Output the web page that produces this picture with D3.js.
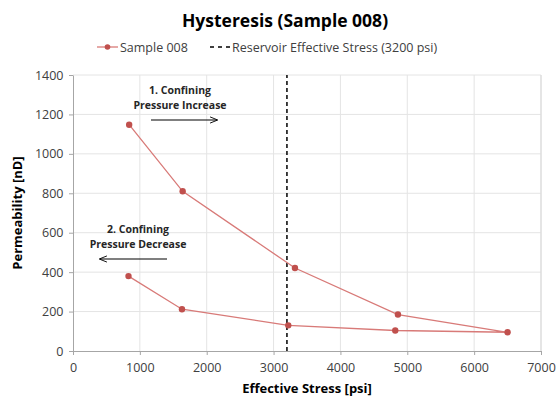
<!DOCTYPE html>
<html>
<head>
<meta charset="utf-8">
<script src="https://cdn.jsdelivr.net/npm/d3@7"></script>
<style>
  body { margin: 0; background: #fff; }
  text { font-family: "Open Sans", "Liberation Sans", sans-serif; }
</style>
</head>
<body>
<div id="chart"></div>
<script>
// measured values, in loop order
const stress = [840, 1640, 3320, 4860, 6500, 4820, 3220, 1630, 830];
const perm   = [1148, 810, 421, 185, 95, 104, 130, 212, 380];
const reservoirStress = 3200;
const xTicks = [0, 1000, 2000, 3000, 4000, 5000, 6000, 7000];
const yTicks = [0, 200, 400, 600, 800, 1000, 1200, 1400];

(function() {
  'use strict';

  const W = 557, H = 401,
        m = {top: 75, right: 16, bottom: 50, left: 73},
        red = '#c0504d',
        svg = d3.select('#chart').append('svg')
          .attr('width', W).attr('height', H),
        x = d3.scaleLinear().domain([0, 7000]).range([m.left, 541]),
        y = d3.scaleLinear().domain([0, 1400]).range([351, m.top]);

  // gridlines
  svg.append('g').selectAll('line').data(xTicks.slice(1)).join('line')
    .attr('x1', d => x(d)).attr('x2', d => x(d))
    .attr('y1', y(0)).attr('y2', y(1400))
    .attr('stroke', '#e4e4e4');
  svg.append('g').selectAll('line').data(yTicks.slice(1)).join('line')
    .attr('x1', x(0)).attr('x2', x(7000))
    .attr('y1', d => y(d)).attr('y2', d => y(d))
    .attr('stroke', '#e4e4e4');

  // axes
  const xAxis = svg.append('g')
    .attr('transform', `translate(0,${y(0)})`)
    .call(d3.axisBottom(x).tickValues(xTicks).tickFormat(d3.format('d'))
      .tickSize(4).tickSizeOuter(0));
  const yAxis = svg.append('g')
    .attr('transform', `translate(${x(0)},0)`)
    .call(d3.axisLeft(y).tickValues(yTicks).tickFormat(d3.format('d'))
      .tickSize(4).tickSizeOuter(0));
  [xAxis, yAxis].forEach(a => {
    a.select('.domain').attr('stroke', '#a6a6a6');
    a.selectAll('.tick line').attr('stroke', '#a6a6a6');
    a.selectAll('.tick text')
      .attr('font-size', 12.5).attr('fill', '#404040')
      .attr('font-family', '"Open Sans", sans-serif');
  });
  xAxis.selectAll('.tick text').attr('dy', '1.1em');
  yAxis.selectAll('.tick text').attr('dx', '-0.2em');

  // right border of plot area
  svg.append('line')
    .attr('x1', x(7000)).attr('x2', x(7000))
    .attr('y1', y(0)).attr('y2', y(1400))
    .attr('stroke', '#d9d9d9');

  // reservoir stress
  svg.append('line')
    .attr('x1', x(reservoirStress)).attr('x2', x(reservoirStress))
    .attr('y1', y(0)).attr('y2', y(1400))
    .attr('stroke', '#000').attr('stroke-width', 1.5)
    .attr('stroke-dasharray', '4,3');

  // series
  const pts = stress.map((s, i) => [s, perm[i]]);
  svg.append('path')
    .datum(pts)
    .attr('fill', 'none').attr('stroke', '#d87a78').attr('stroke-width', 1.3)
    .attr('d', d3.line().x(d => x(d[0])).y(d => y(d[1])));
  svg.append('g').selectAll('circle').data(pts).join('circle')
    .attr('cx', d => x(d[0])).attr('cy', d => y(d[1]))
    .attr('r', 3.2).attr('fill', red);

  // title
  svg.append('text')
    .attr('x', 285).attr('y', 27).attr('text-anchor', 'middle')
    .attr('font-size', 17.5).attr('font-weight', 'bold').attr('fill', '#000')
    .text('Hysteresis (Sample 008)');

  // legend
  const lg = svg.append('g');
  lg.append('line').attr('x1', 97).attr('x2', 118).attr('y1', 47).attr('y2', 47)
    .attr('stroke', '#d87a78').attr('stroke-width', 1.3);
  lg.append('circle').attr('cx', 107.5).attr('cy', 47).attr('r', 2.8).attr('fill', red);
  lg.append('text').attr('x', 120).attr('y', 51.5)
    .attr('font-size', 12.5).attr('fill', '#404040').text('Sample 008');
  lg.append('line').attr('x1', 210).attr('x2', 230).attr('y1', 47).attr('y2', 47)
    .attr('stroke', '#000').attr('stroke-width', 1.3).attr('stroke-dasharray', '4,4');
  lg.append('text').attr('x', 232).attr('y', 51.5)
    .attr('font-size', 12.5).attr('fill', '#404040')
    .text('Reservoir Effective Stress (3200 psi)');

  // axis titles
  svg.append('text')
    .attr('x', 307).attr('y', 393).attr('text-anchor', 'middle')
    .attr('font-size', 13).attr('font-weight', 'bold').attr('fill', '#000')
    .text('Effective Stress [psi]');
  svg.append('text')
    .attr('transform', 'translate(22,213) rotate(-90)').attr('text-anchor', 'middle')
    .attr('font-size', 13).attr('font-weight', 'bold').attr('fill', '#000')
    .text('Permeability [nD]');

  // annotations
  svg.append('defs').append('marker')
    .attr('id', 'arr').attr('viewBox', '0 0 10 10')
    .attr('refX', 9).attr('refY', 5)
    .attr('markerWidth', 7).attr('markerHeight', 7).attr('orient', 'auto')
    .append('path').attr('d', 'M0,1 L10,5 L0,9').attr('fill', 'none')
    .attr('stroke', '#000').attr('stroke-width', 1.2);

  const note = (cx, cy, lines, x1, x2, ay) => {
    lines.forEach((t, i) => svg.append('text')
      .attr('x', cx).attr('y', cy + i * 15).attr('text-anchor', 'middle')
      .attr('font-size', 10.5).attr('font-weight', 'bold').attr('fill', '#262626')
      .text(t));
    svg.append('line').attr('x1', x1).attr('x2', x2).attr('y1', ay).attr('y2', ay)
      .attr('stroke', '#000').attr('stroke-width', 1.1)
      .attr('marker-end', 'url(#arr)');
  };
  note(180, 94, ['1. Confining', 'Pressure Increase'], 151, 217, 120);
  note(138, 233, ['2. Confining', 'Pressure Decrease'], 167, 100, 259);
})();
</script>
</body>
</html>
